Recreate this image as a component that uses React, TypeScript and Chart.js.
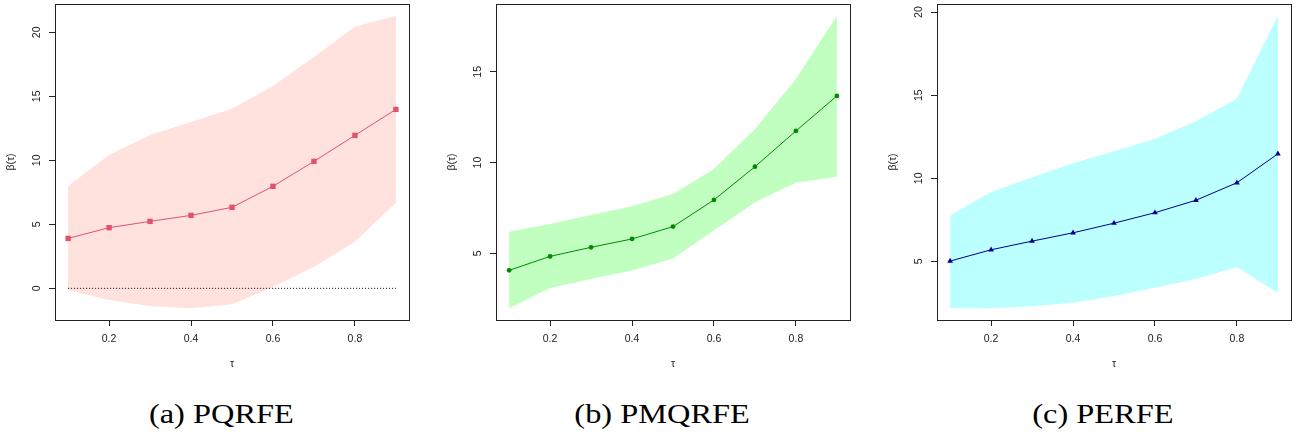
import React, { useEffect, useRef } from "react";
import { Chart, registerables } from "chart.js";

Chart.register(...registerables);

// quantile levels
const tau = [0.1, 0.2, 0.3, 0.4, 0.5, 0.6, 0.7, 0.8, 0.9];
const xTicks = [0.2, 0.4, 0.6, 0.8];
const xTickLabels = ["0.2", "0.4", "0.6", "0.8"];

// (a) PQRFE
const pqrfeEst = [3.9, 4.74, 5.23, 5.7, 6.33, 7.97, 9.92, 11.95, 13.98];
const pqrfeUpper = [7.99, 10.41, 11.98, 13.0, 14.03, 15.8, 18.07, 20.44, 21.3];
const pqrfeLower = [-0.13, -0.91, -1.38, -1.56, -1.25, 0.1, 1.69, 3.64, 6.69];
const pqrfeYTicks = [0, 5, 10, 15, 20];

// (b) PMQRFE
const pmqrfeEst = [4.06, 4.83, 5.33, 5.79, 6.47, 7.94, 9.77, 11.74, 13.67];
const pmqrfeUpper = [6.19, 6.62, 7.11, 7.59, 8.27, 9.65, 11.85, 14.6, 18.09];
const pmqrfeLower = [1.97, 3.09, 3.59, 4.05, 4.72, 6.25, 7.81, 8.88, 9.22];
const pmqrfeYTicks = [5, 10, 15];

// (c) PERFE
const perfeEst = [5.02, 5.7, 6.22, 6.72, 7.3, 7.93, 8.68, 9.73, 11.47];
const perfeUpper = [7.76, 9.17, 10.07, 10.91, 11.63, 12.37, 13.43, 14.78, 19.78];
const perfeLower = [2.2, 2.18, 2.3, 2.52, 2.92, 3.42, 3.94, 4.66, 3.1];
const perfeYTicks = [5, 10, 15, 20];

const AXIS_COLOR = "#222";
const SANS = "'Liberation Sans', Arial, sans-serif";

type PanelProps = {
  left: number;
  est: number[];
  upper: number[];
  lower: number[];
  yTicks: number[];
  fillColor: string;
  lineColor: string;
  pointStyle: string;
  pointRadius: number;
  zeroLine: boolean;
  caption: string;
};

function Panel(p: PanelProps) {
  const ref = useRef<HTMLCanvasElement>(null);
  useEffect(() => {
    if (!ref.current) return;
    const all = [...p.upper, ...p.lower];
    const lo = Math.min(...all);
    const hi = Math.max(...all);
    const yPad = (hi - lo) * 0.04;
    const xPad = (tau[tau.length - 1] - tau[0]) * 0.04;
    const pts = (ys: number[]) => tau.map((x, i) => ({ x, y: ys[i] }));

    const datasets: any[] = [
      {
        data: pts(p.est),
        borderColor: p.lineColor,
        backgroundColor: p.lineColor,
        borderWidth: 1,
        pointStyle: p.pointStyle,
        pointRadius: p.pointRadius,
        pointBorderWidth: 0,
        fill: false,
        tension: 0,
      },
      {
        data: p.zeroLine ? tau.map((x) => ({ x, y: 0 })) : [],
        borderColor: "#000",
        borderWidth: 1,
        borderDash: [1, 2],
        pointRadius: 0,
        fill: false,
      },
      {
        data: pts(p.upper),
        borderWidth: 0,
        borderColor: "rgba(0,0,0,0)",
        backgroundColor: p.fillColor,
        pointRadius: 0,
        fill: 3,
      },
      {
        data: pts(p.lower),
        borderWidth: 0,
        borderColor: "rgba(0,0,0,0)",
        pointRadius: 0,
        fill: false,
      },
    ];

    const boxPlugin = {
      id: "rbox",
      afterDraw(chart: any) {
        const { ctx, chartArea } = chart;
        ctx.save();
        ctx.strokeStyle = AXIS_COLOR;
        ctx.lineWidth = 1;
        ctx.strokeRect(
          Math.round(chartArea.left) + 0.5,
          Math.round(chartArea.top) + 0.5,
          Math.round(chartArea.right - chartArea.left),
          Math.round(chartArea.bottom - chartArea.top)
        );
        // rotated y tick labels (R style, las = 0)
        const ys = chart.scales.y;
        ctx.fillStyle = AXIS_COLOR;
        ctx.font = `10.5px ${SANS}`;
        ctx.textAlign = "center";
        ctx.textBaseline = "middle";
        for (const t of ys.ticks) {
          const y = ys.getPixelForValue(t.value);
          ctx.save();
          ctx.translate(chartArea.left - 18, y);
          ctx.rotate(-Math.PI / 2);
          ctx.fillText(String(t.value), 0, 0);
          ctx.restore();
        }
        ctx.restore();
      },
    };

    const chart = new Chart(ref.current, {
      type: "line",
      data: { datasets },
      options: {
        animation: false,
        responsive: true,
        maintainAspectRatio: false,
        layout: { padding: { top: 3, right: 21, left: 0, bottom: 0 } },
        plugins: {
          legend: { display: false },
          tooltip: { enabled: false },
          filler: { propagate: false },
        },
        scales: {
          x: {
            type: "linear",
            min: tau[0] - xPad,
            max: tau[tau.length - 1] + xPad,
            afterBuildTicks: (s: any) => {
              s.ticks = xTicks.map((v) => ({ value: v }));
            },
            afterFit: (s: any) => {
              s.height = 60;
            },
            grid: {
              display: true,
              drawOnChartArea: false,
              drawTicks: true,
              tickLength: 6,
              color: AXIS_COLOR,
              lineWidth: 1,
            },
            border: { display: false },
            ticks: {
              autoSkip: false,
              maxRotation: 0,
              padding: 7,
              color: AXIS_COLOR,
              font: { family: SANS, size: 10.5 },
              callback: (_v: any, i: number) => xTickLabels[i],
            },
            title: {
              display: true,
              text: "τ",
              color: AXIS_COLOR,
              font: { family: SANS, size: 10.5 },
              padding: { top: 0, bottom: 10 },
            },
          },
          y: {
            type: "linear",
            min: lo - yPad,
            max: hi + yPad,
            afterBuildTicks: (s: any) => {
              s.ticks = p.yTicks.map((v) => ({ value: v }));
            },
            afterFit: (s: any) => {
              s.width = 55;
            },
            grid: {
              display: true,
              drawOnChartArea: false,
              drawTicks: true,
              tickLength: 6,
              color: AXIS_COLOR,
              lineWidth: 1,
            },
            border: { display: false },
            ticks: { display: false },
            title: {
              display: true,
              text: "β(τ)",
              color: AXIS_COLOR,
              font: { family: SANS, size: 10.5 },
              padding: { top: 5, bottom: 0 },
            },
          },
        },
      } as any,
      plugins: [boxPlugin],
    });
    return () => chart.destroy();
  }, []);

  return (
    <>
      <div
        style={{
          position: "absolute",
          left: p.left,
          top: 0,
          width: 430,
          height: 380,
        }}
      >
        <canvas ref={ref} />
      </div>
      <div
        style={{
          position: "absolute",
          left: p.left,
          top: 401,
          width: 442,
          textAlign: "center",
          fontFamily: "'Liberation Serif', 'Times New Roman', serif",
          fontSize: 27,
          lineHeight: 1,
          color: "#000",
          whiteSpace: "nowrap",
        }}
      >
        <span style={{ display: "inline-block", transform: "scaleX(1.2)", transformOrigin: "center" }}>
          {p.caption}
        </span>
      </div>
    </>
  );
}

export default function App() {
  return (
    <div
      style={{
        position: "fixed",
        left: 0,
        top: 0,
        width: 1299,
        height: 437,
        background: "#fff",
        overflow: "hidden",
      }}
    >
      <Panel
        left={0}
        est={pqrfeEst}
        upper={pqrfeUpper}
        lower={pqrfeLower}
        yTicks={pqrfeYTicks}
        fillColor="#FFE1DE"
        lineColor="#DF536B"
        pointStyle="rect"
        pointRadius={3.8}
        zeroLine={true}
        caption="(a) PQRFE"
      />
      <Panel
        left={441}
        est={pmqrfeEst}
        upper={pmqrfeUpper}
        lower={pmqrfeLower}
        yTicks={pmqrfeYTicks}
        fillColor="#C1FFC1"
        lineColor="#008B00"
        pointStyle="circle"
        pointRadius={2.4}
        zeroLine={false}
        caption="(b) PMQRFE"
      />
      <Panel
        left={882}
        est={perfeEst}
        upper={perfeUpper}
        lower={perfeLower}
        yTicks={perfeYTicks}
        fillColor="#BBFFFF"
        lineColor="#00008B"
        pointStyle="triangle"
        pointRadius={3.3}
        zeroLine={false}
        caption="(c) PERFE"
      />
    </div>
  );
}
